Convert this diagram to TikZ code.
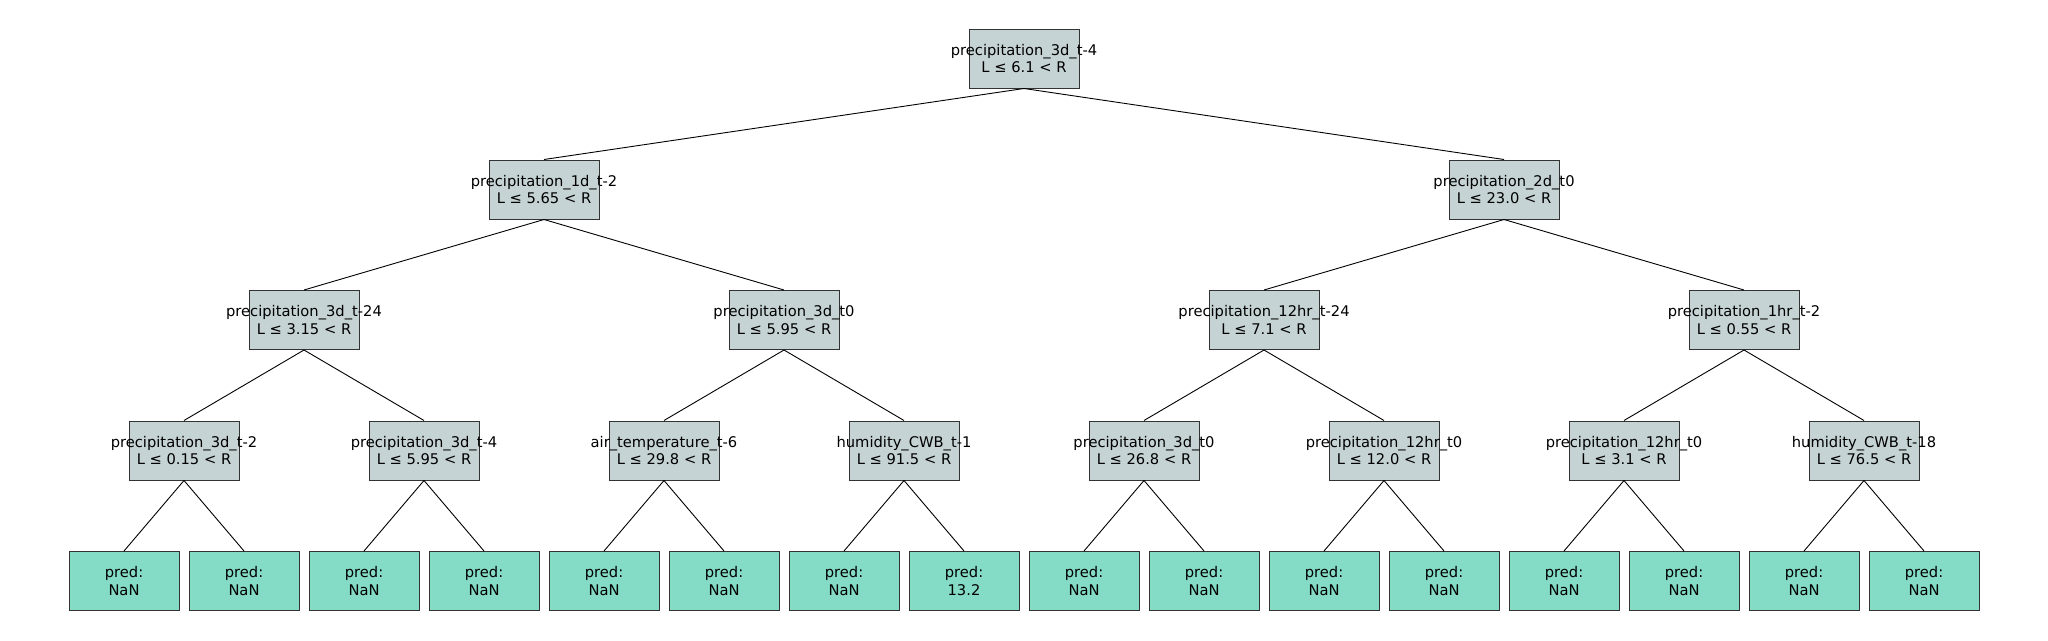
\documentclass[tikz,border=0pt]{standalone}
\usepackage{fontspec}
\setmainfont{DejaVu Sans}
\usepackage{tikz}
\usetikzlibrary{positioning}

\definecolor{splitfill}{HTML}{C6D3D4}
\definecolor{predfill}{HTML}{84DCC6}
\definecolor{boxline}{HTML}{333333}

\tikzset{
	treebox/.style = {draw=boxline, line width=1pt, minimum width=110pt, minimum height=59pt,
		inner sep=0pt, align=center, font=\fontsize{14.7}{17.4}\selectfont},
	splitbox/.style = {treebox, fill=splitfill},
	predbox/.style  = {treebox, fill=predfill},
	branch/.style   = {line width=0.9pt, black},
}

% two centred lines that may stick out of the box
\newcommand{\twolines}[2]{\makebox[0pt]{#1}\\\makebox[0pt]{#2}}

\begin{document}
\begin{tikzpicture}[x=1pt, y=-1pt]
	
	\useasboundingbox (0,0) rectangle (2048,640);
	
	% split nodes, numbered as in a heap: children of N<i> are N<2i>, N<2i+1>
	\node[splitbox] (N1) at (1024,58.5) {\twolines{precipitation\_3d\_t-4}{L ≤ 6.1 < R}};
	
	\node[splitbox] (N2) at ( 544,189.5) {\twolines{precipitation\_1d\_t-2}{L ≤ 5.65 < R}};
	\node[splitbox] (N3) at (1504,189.5) {\twolines{precipitation\_2d\_t0}{L ≤ 23.0 < R}};
	
	\node[splitbox] (N4) at ( 304,320) {\twolines{precipitation\_3d\_t-24}{L ≤ 3.15 < R}};
	\node[splitbox] (N5) at ( 784,320) {\twolines{precipitation\_3d\_t0}{L ≤ 5.95 < R}};
	\node[splitbox] (N6) at (1264,320) {\twolines{precipitation\_12hr\_t-24}{L ≤ 7.1 < R}};
	\node[splitbox] (N7) at (1744,320) {\twolines{precipitation\_1hr\_t-2}{L ≤ 0.55 < R}};
	
	\node[splitbox] (N8)  at ( 184,450.5) {\twolines{precipitation\_3d\_t-2}{L ≤ 0.15 < R}};
	\node[splitbox] (N9)  at ( 424,450.5) {\twolines{precipitation\_3d\_t-4}{L ≤ 5.95 < R}};
	\node[splitbox] (N10) at ( 664,450.5) {\twolines{air\_temperature\_t-6}{L ≤ 29.8 < R}};
	\node[splitbox] (N11) at ( 904,450.5) {\twolines{humidity\_CWB\_t-1}{L ≤ 91.5 < R}};
	\node[splitbox] (N12) at (1144,450.5) {\twolines{precipitation\_3d\_t0}{L ≤ 26.8 < R}};
	\node[splitbox] (N13) at (1384,450.5) {\twolines{precipitation\_12hr\_t0}{L ≤ 12.0 < R}};
	\node[splitbox] (N14) at (1624,450.5) {\twolines{precipitation\_12hr\_t0}{L ≤ 3.1 < R}};
	\node[splitbox] (N15) at (1864,450.5) {\twolines{humidity\_CWB\_t-18}{L ≤ 76.5 < R}};
	
	% leaves N16 ... N31
	\foreach \i/\val in {16/NaN,17/NaN,18/NaN,19/NaN,20/NaN,21/NaN,22/NaN,23/13.2,
		24/NaN,25/NaN,26/NaN,27/NaN,28/NaN,29/NaN,30/NaN,31/NaN}
	{
		\node[predbox] (N\i) at ({124+120*(\i-16)},581) {pred:\\\val};
	}
	
	% branches
	\foreach \i in {1,...,15}
	{
		\pgfmathtruncatemacro{\l}{2*\i}
		\pgfmathtruncatemacro{\r}{2*\i+1}
		\draw[branch] (N\i.south) -- (N\l.north);
		\draw[branch] (N\i.south) -- (N\r.north);
	}
	
\end{tikzpicture}
\end{document}
